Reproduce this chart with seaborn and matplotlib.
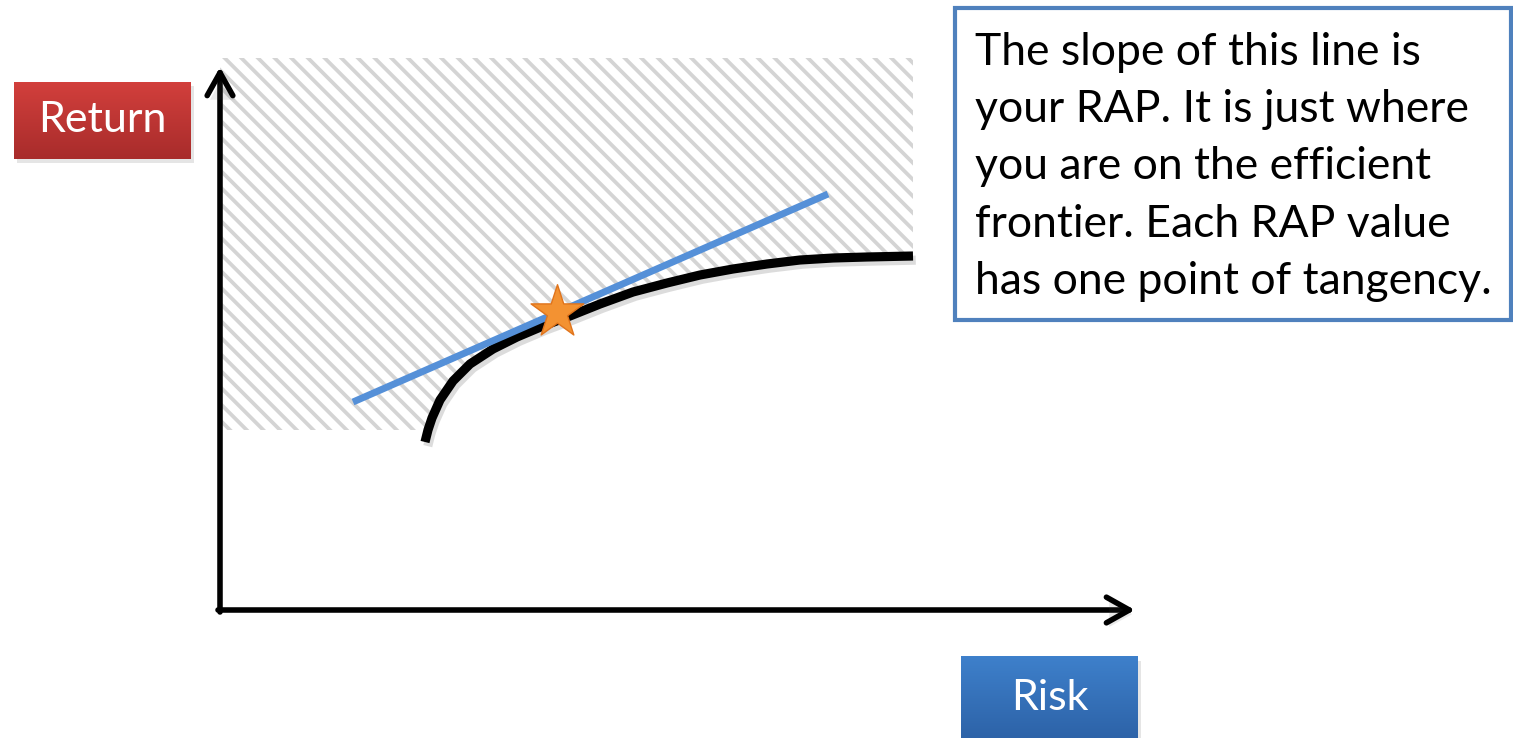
import numpy as np
import matplotlib
matplotlib.use("Agg")
import matplotlib.pyplot as plt
import matplotlib.patheffects as pe
from matplotlib.patches import Rectangle
import seaborn as sns

# Efficient frontier (risk, return)
frontier_risk = [2.05, 2.08, 2.12, 2.20, 2.33, 2.50, 2.73, 2.97, 3.23, 3.50, 3.80,
                 4.13, 4.47, 4.80, 5.13, 5.47, 5.80, 6.13, 6.47, 6.93]
frontier_return = [1.68, 1.80, 1.92, 2.10, 2.29, 2.46, 2.61, 2.73, 2.84, 2.94, 3.06,
                   3.18, 3.27, 3.35, 3.41, 3.46, 3.50, 3.52, 3.53, 3.54]

# Tangent line whose slope is the RAP
rap_line_risk = [1.33, 6.08]
rap_line_return = [2.08, 4.16]

# Point of tangency
tangency_risk = [3.37]
tangency_return = [2.98]

# Attainable-but-undesirable zone above the frontier
zone_floor = 1.80
zone_ceiling = 5.52

x_label = "Risk"
y_label = "Return"
note_lines = [
    "The slope of this line is",
    "your RAP. It is just where",
    "you are on the efficient",
    "frontier. Each RAP value",
    "has one point of tangency.",
]

sns.set_theme(style="white")
plt.rcParams["font.family"] = ["Lato", "DejaVu Sans"]
plt.rcParams["hatch.linewidth"] = 2.7
plt.rcParams["hatch.color"] = "#d4d4d4"

fig = plt.figure(figsize=(15.13, 7.38), dpi=100)
ax = fig.add_axes([0, 0, 1, 1])
ax.set_axis_off()

XMIN, XMAX = -2.20, 12.93
YMIN, YMAX = -1.28, 6.10

# Hatched zone: above the frontier, floored on the left
fr_x = np.array(frontier_risk)
fr_y = np.array(frontier_return)
x_cross = np.interp(zone_floor, fr_y, fr_x)
keep = fr_y > zone_floor
zone_x = np.concatenate([[0.0, x_cross], fr_x[keep]])
zone_lo = np.concatenate([[zone_floor, zone_floor], fr_y[keep]])
ax.fill_between(zone_x, zone_lo, zone_ceiling, facecolor="white",
                edgecolor="#d4d4d4", linewidth=0, hatch="\\\\", zorder=1)

# Axes arrows
arrow_kw = dict(arrowstyle="->,head_length=0.75,head_width=0.42", lw=4.0,
                color="black", mutation_scale=22, shrinkA=0, shrinkB=0,
                capstyle="round", joinstyle="round")
a1 = ax.annotate("", xy=(0, 5.43), xytext=(0, -0.02), arrowprops=arrow_kw, zorder=3)
a2 = ax.annotate("", xy=(9.15, 0), xytext=(-0.02, 0), arrowprops=arrow_kw, zorder=3)
for a in (a1, a2):
    a.arrow_patch.set_path_effects([pe.SimplePatchShadow(offset=(2, -3), alpha=0.12), pe.Normal()])

# Frontier curve
sns.lineplot(x=frontier_risk, y=frontier_return, ax=ax, color="black",
             linewidth=6.6, sort=False, zorder=4,
             path_effects=[pe.SimpleLineShadow(offset=(2, -3), alpha=0.15, rho=0.5), pe.Normal()])
ax.lines[-1].set_solid_capstyle("butt")
ax.lines[-1].set_solid_joinstyle("round")

# RAP tangent line
sns.lineplot(x=rap_line_risk, y=rap_line_return, ax=ax, color="#5590d8",
             linewidth=5.0, zorder=5)
ax.lines[-1].set_solid_capstyle("butt")

# Tangency star
sns.scatterplot(x=tangency_risk, y=tangency_return, ax=ax, marker="*", s=1600,
                color="#f39232", edgecolor="#e0741c", linewidth=1.0, zorder=6)


def gradient_box(x0, y0, x1, y1, top, bottom, text):
    ax.add_patch(Rectangle((x0 + 0.03, y0 - 0.04), x1 - x0, y1 - y0,
                           facecolor="black", alpha=0.10, edgecolor="none", zorder=6))
    grad = np.linspace(0, 1, 64)[:, None]
    c_top = np.array(matplotlib.colors.to_rgb(top))
    c_bot = np.array(matplotlib.colors.to_rgb(bottom))
    img = c_top[None, None, :] * (1 - grad[..., None]) + c_bot[None, None, :] * grad[..., None]
    ax.imshow(img, extent=(x0, x1, y0, y1), origin="upper", aspect="auto",
              interpolation="bilinear", zorder=7)
    ax.text((x0 + x1) / 2, (y0 + y1) / 2, text, color="white", fontsize=31,
            ha="center", va="center", zorder=8)


gradient_box(-2.06, 4.51, -0.29, 5.28, "#d23f3c", "#a82c2b", y_label)
gradient_box(7.41, -1.28, 9.18, -0.47, "#3e80cb", "#2d63a8", x_label)

# Note box
ax.add_patch(Rectangle((7.35, 2.90), 5.56, 3.12, facecolor="white",
                       edgecolor="#4f81bd", linewidth=3.0, zorder=6))
line_step = 0.572
for i, line in enumerate(note_lines):
    ax.text(7.55, 5.45 - i * line_step, line, fontsize=32, color="black",
            ha="left", va="baseline", zorder=7)

ax.set_xlim(XMIN, XMAX)
ax.set_ylim(YMIN, YMAX)

fig.savefig("out.png", dpi=100, facecolor="white")
